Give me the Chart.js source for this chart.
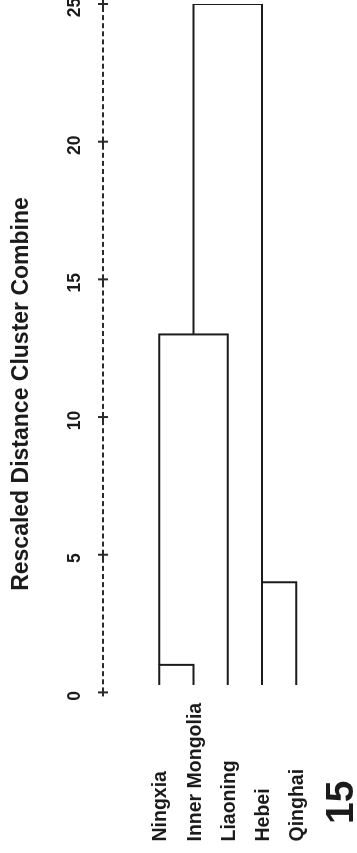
<!DOCTYPE html>
<html>
<head>
<meta charset="utf-8">
<title>Rescaled Distance Cluster Combine</title>
<script src="https://cdn.jsdelivr.net/npm/chart.js@4/dist/chart.umd.min.js"></script>
<style>
  html, body { margin: 0; padding: 0; background: #fff; overflow: hidden; width: 357px; height: 853px; }
  /* The dendrogram is laid out left-to-right, then turned a quarter turn so it reads bottom-to-top */
  #wrap {
    position: absolute; left: 0; top: 0; width: 853px; height: 357px;
    transform-origin: 0 0; transform: translateY(853px) rotate(-90deg);
  }
  canvas { display: block; }
</style>
</head>
<body>
<div id="wrap"><canvas id="dendro" width="853" height="357"></canvas></div>
<script>
// Leaves, in display order
const leafNames = ['Ningxia', 'Inner Mongolia', 'Liaoning', 'Hebei', 'Qinghai'];

// Agglomeration steps: rescaled distance, the two rows joined, row the new cluster continues on
const mergeDistance = [1, 4, 13, 25];
const mergeUpper    = [0, 3, 0, 1];
const mergeLower    = [1, 4, 2, 3];
const mergeRow      = [0, 3, 1, 1];

// Where the leaf branches begin on the distance scale
const leafStart = 0.27;

// Distance axis
const distanceTicks = [0, 5, 10, 15, 20, 25];
const axisTitle = 'Rescaled Distance Cluster Combine';
const footnote = '15';

const FONT = '"Liberation Sans", Arial, Helvetica, sans-serif';
const INK = '#1b1b1b';

// Build one U-shaped link per merge
const branchStart = leafNames.map(() => leafStart);
const links = mergeDistance.map((d, i) => {
  const a = mergeUpper[i], b = mergeLower[i];
  const pts = [
    { x: branchStart[a], y: a },
    { x: d, y: a },
    { x: d, y: b },
    { x: branchStart[b], y: b }
  ];
  branchStart[mergeRow[i]] = d;
  return pts;
});

const dendroFrame = {
  id: 'dendroFrame',
  afterDraw(chart) {
    const { ctx, scales: { x, y } } = chart;
    const axisY = 103;
    ctx.save();

    // dashed distance axis
    ctx.strokeStyle = '#2a2a2a';
    ctx.lineWidth = 2;
    ctx.setLineDash([5, 3.1]);
    ctx.beginPath();
    ctx.moveTo(x.getPixelForValue(distanceTicks[0]), axisY);
    ctx.lineTo(x.getPixelForValue(distanceTicks[distanceTicks.length - 1]), axisY);
    ctx.stroke();
    ctx.setLineDash([]);

    // "+" tick marks and labels
    ctx.fillStyle = INK;
    ctx.font = 'bold 17.5px ' + FONT;
    ctx.textAlign = 'center';
    ctx.textBaseline = 'alphabetic';
    distanceTicks.forEach(v => {
      const px = x.getPixelForValue(v);
      ctx.beginPath();
      ctx.moveTo(px - 4, axisY); ctx.lineTo(px + 4, axisY);
      ctx.moveTo(px, axisY - 5); ctx.lineTo(px, axisY + 5);
      ctx.stroke();
      ctx.fillText(String(v), px - 3.5, 80);
    });

    // axis title
    ctx.font = 'bold 23px ' + FONT;
    ctx.fillText(axisTitle, 459, 28);

    // leaf labels
    ctx.textAlign = 'left';
    ctx.font = 'bold 19.5px ' + FONT;
    leafNames.forEach((name, i) => {
      ctx.fillText(name, 11.5, y.getPixelForValue(i) + 7);
    });

    // footnote number
    ctx.font = 'bold 39px ' + FONT;
    ctx.fillText(footnote, 29, 353);

    ctx.restore();
  }
};

new Chart(document.getElementById('dendro'), {
  type: 'scatter',
  data: {
    datasets: links.map(pts => ({
      data: pts,
      showLine: true,
      borderColor: INK,
      borderWidth: 2,
      pointRadius: 0,
      pointHoverRadius: 0,
      tension: 0,
      fill: false
    }))
  },
  options: {
    responsive: false,
    devicePixelRatio: 1,
    animation: false,
    events: [],
    layout: { padding: { left: 160.6, right: 4, top: 142.2, bottom: 43.6 } },
    scales: {
      x: { type: 'linear', min: 0, max: 25, display: false },
      y: { type: 'linear', min: -0.5, max: 4.5, reverse: true, display: false }
    },
    plugins: { legend: { display: false }, tooltip: { enabled: false } }
  },
  plugins: [dendroFrame]
});
</script>
</body>
</html>
